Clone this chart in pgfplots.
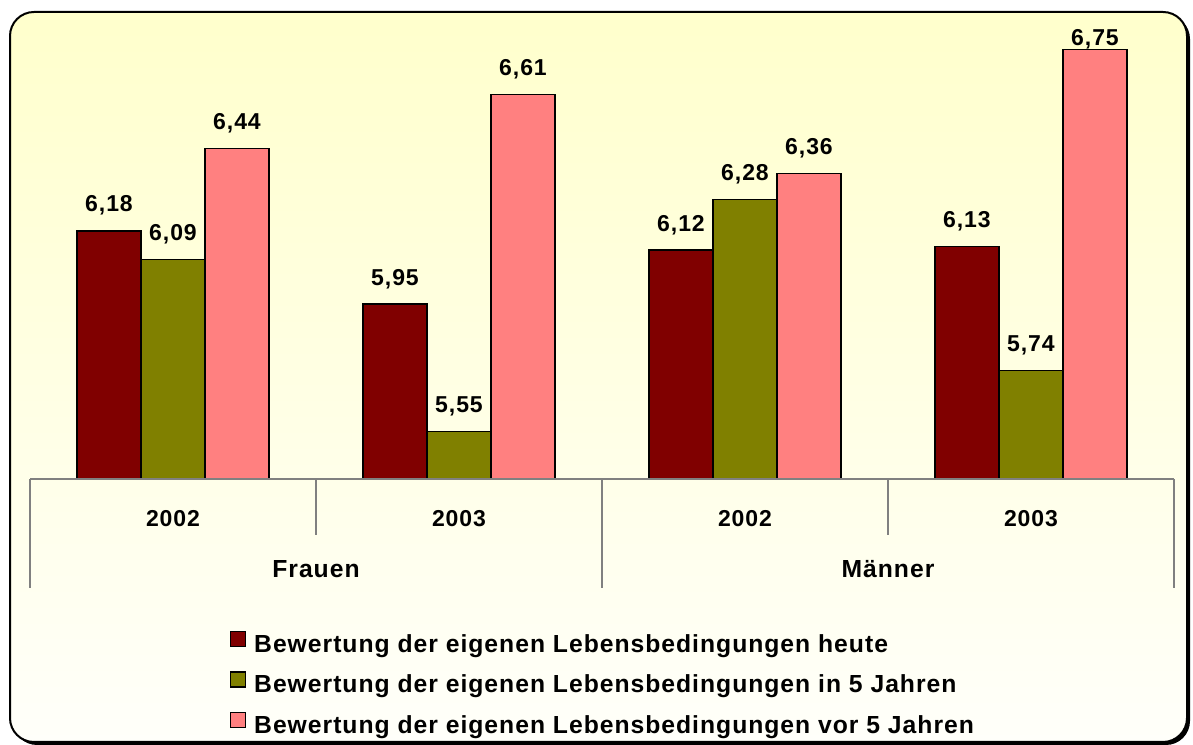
\documentclass[border=0pt]{standalone}
\usepackage{fontspec}
\setmainfont{Liberation Sans}[LetterSpace=4]
\usepackage{pgfplots}
\usepackage{pgfplotstable}
\pgfplotsset{compat=1.18}
\definecolor{cRed}{HTML}{800000}
\definecolor{cOlive}{HTML}{808000}
\definecolor{cPink}{HTML}{FF8080}
\definecolor{bgTop}{HTML}{FFFFCC}
\definecolor{bgBot}{HTML}{FFFFFA}
\definecolor{axgray}{HTML}{808080}
\pgfplotsset{sqlegend/.style={legend image code/.code={\draw[##1,line width=1.2bp] (0bp,0bp) rectangle (15bp,15bp);}}}
\newcommand{\numfont}{\bfseries\fontsize{23bp}{27bp}\selectfont}
\newcommand{\txtfont}{\bfseries\fontsize{24.7bp}{28bp}\selectfont}
% x  value  label shift (bp)
\pgfplotstableread{
x y dy
0 6.18 19
1 5.95 19
2 6.12 19
3 6.13 19
}\tabA
\pgfplotstableread{
x y dy
0 6.09 19
1 5.55 19
2 6.28 19
3 5.74 19
}\tabB
\pgfplotstableread{
x y dy
0 6.44 19
1 6.61 19
2 6.36 19
3 6.75 4
}\tabC
\begin{document}
\begin{tikzpicture}[x=1bp,y=1bp]
\useasboundingbox (0,0) rectangle (1193,745);
\fill[black, rounded corners=24bp] (13,0) rectangle (1190,730);
\shade[top color=bgTop, bottom color=bgBot, draw=black, line width=2bp, rounded corners=24bp] (10,3) rectangle (1187,733);
\begin{axis}[
  at={(30bp,266bp)}, anchor=south west,
  scale only axis, width=1144bp, height=477bp,
  xmin=-0.5, xmax=3.5, ymin=5.4, ymax=6.9,
  axis line style={draw=none},
  ytick=\empty,
  xtick={0,1,2,3},
  xticklabels={2002,2003,2002,2003},
  extra x ticks={0.5,2.5},
  extra x tick labels={Frauen,M\"anner},
  major tick length=0pt,
  xticklabel style={anchor=base, yshift=-48bp, font=\numfont},
  every extra x tick/.style={xticklabel style={yshift=-51bp, font=\txtfont}},
  ybar=0pt, bar width=64bp,
  every axis plot/.append style={draw=black, line width=1.2bp},
  nodes near coords,
  visualization depends on={\thisrow{dy} \as \dy},
  every node near coord/.append style={anchor=base, yshift=\dy bp, font=\numfont, text=black},
  legend style={at={(axis description cs:0.17483,-0.31866)}, anchor=north west,
    draw=none, fill=none, inner sep=0pt, outer sep=0pt, row sep=14.5bp, font=\txtfont,
    nodes={inner sep=0pt, text height=16bp, text depth=4.5bp},
    /tikz/every odd column/.append style={column sep=8bp}},
  legend cell align=left,
  /pgf/number format/.cd, use comma, fixed, fixed zerofill, precision=2, assume math mode=true,
]
\addplot[fill=cRed, sqlegend] table[x=x, y=y] {\tabA};
\addplot[fill=cOlive, sqlegend] table[x=x, y=y] {\tabB};
\addplot[fill=cPink, sqlegend] table[x=x, y=y] {\tabC};
\legend{Bewertung der eigenen Lebensbedingungen heute,
        Bewertung der eigenen Lebensbedingungen in 5 Jahren,
        Bewertung der eigenen Lebensbedingungen vor 5 Jahren}
\end{axis}
\draw[axgray, line width=1.2bp] (30,266) -- (1174,266);
\foreach \xx in {30,602,1174} {\draw[axgray, line width=1.2bp] (\xx,266) -- (\xx,157);}
\foreach \xx in {316,888} {\draw[axgray, line width=1.2bp] (\xx,266) -- (\xx,210);}
\end{tikzpicture}
\end{document}
